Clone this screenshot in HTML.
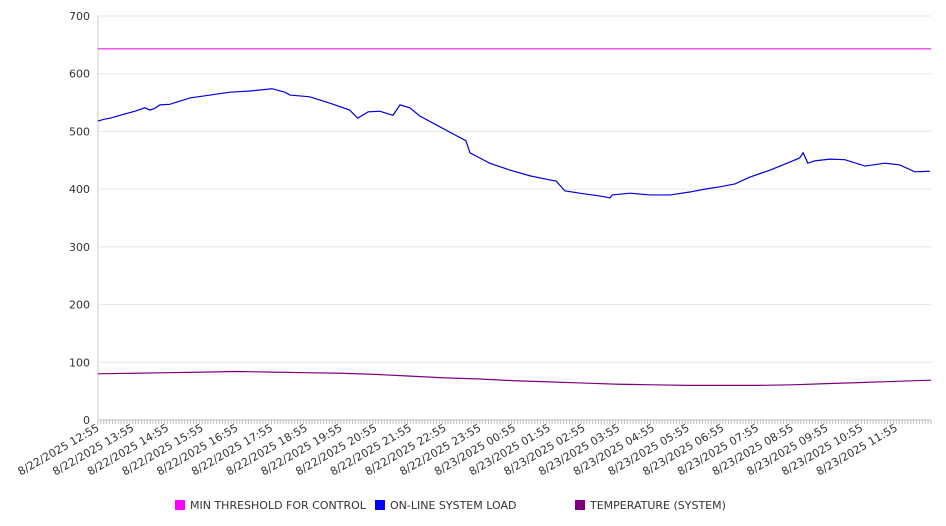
<!DOCTYPE html>
<html><head><meta charset="utf-8"><style>
body{margin:0;background:#fff;}
svg{display:block;font-family:"DejaVu Sans","Liberation Sans",sans-serif;}
</style></head><body>
<svg id="chart" width="946" height="526"></svg>
<script>
const startLabels=["8/22/2025 12:55","8/22/2025 13:55","8/22/2025 14:55","8/22/2025 15:55","8/22/2025 16:55","8/22/2025 17:55","8/22/2025 18:55","8/22/2025 19:55","8/22/2025 20:55","8/22/2025 21:55","8/22/2025 22:55","8/22/2025 23:55","8/23/2025 00:55","8/23/2025 01:55","8/23/2025 02:55","8/23/2025 03:55","8/23/2025 04:55","8/23/2025 05:55","8/23/2025 06:55","8/23/2025 07:55","8/23/2025 08:55","8/23/2025 09:55","8/23/2025 10:55","8/23/2025 11:55"];
const yTicks=[0,100,200,300,400,500,600,700];
const loadMinutes=[0,10,21,38,64,81,90,98,107,124,159,194,228,263,301,323,332,366,401,435,449,467,487,510,522,539,556,591,617,636,643,660,677,712,747,781,792,807,833,868,885,889,920,954,989,1023,1049,1075,1101,1127,1162,1196,1213,1219,1227,1239,1265,1291,1326,1360,1386,1412,1438];
const loadValues=[518,521,523,528,535,541,537,540,546,547,558,563,568,570,574,568,563,560,549,537,523,534,535,528,546,541,527,508,494,484,463,454,445,433,423,416,414,397,393,388,385,390,393,390,390,395,400,404,409,421,433,447,454,463,445,449,452,451,440,445,442,430,431];
const tempMinutes=[0,60,120,180,240,300,360,420,480,540,600,660,720,780,840,900,960,1020,1080,1140,1200,1260,1320,1380,1440];
const tempValues=[80,81,82,83,84,83,82,81,79,76,73,71,68,66,64,62,61,60,60,60,61,63,65,67,69];
const thresholdValue=643;

const X0=98,X1=931,Y0=420,Y1=16,TOTAL=1440;
const xs=m=>X0+(X1-X0)*m/TOTAL;
const ys=v=>Y0-(Y0-Y1)*v/700;
const svg=document.getElementById('chart');
const NS='http://www.w3.org/2000/svg';
function mk(t,a,p){const e=document.createElementNS(NS,t);for(const k in a)e.setAttribute(k,a[k]);(p||svg).appendChild(e);return e;}

yTicks.forEach(v=>{
  const g=mk('line',{x1:X0,x2:X1,y1:ys(v),y2:ys(v),stroke:v===0?'#bbb':'#e6e6e6','stroke-width':1});
  
  
  const t=mk('text',{x:90,y:ys(v)+4,'text-anchor':'end','font-size':11,fill:'#333'});
  t.textContent=v;
  
  
});
const ax=mk('line',{x1:X0,x2:X0,y1:Y1,y2:Y0,stroke:'#ccc'});


const tk=mk('g',{stroke:'#bbb'});


for(let m=0;m<=TOTAL;m+=5){mk('line',{x1:xs(m),x2:xs(m),y1:Y0,y2:Y0+4},tk);}
startLabels.forEach((l,i)=>{
  const x=xs(i*60)+2,y=Y0+10;
  const t=mk('text',{x:x,y:y,'text-anchor':'end','font-size':11,fill:'#333',transform:`rotate(-30 ${x} ${y})`});
  t.textContent=l;
  
  
});
const th=mk('line',{x1:X0,x2:X1,y1:ys(thresholdValue),y2:ys(thresholdValue),stroke:'#e000e0','stroke-width':1});


function path(ms,vs,c,name){
  const p=mk('polyline',{points:ms.map((m,i)=>xs(m)+','+ys(vs[i])).join(' '),fill:'none',stroke:c,'stroke-width':1.2});
  
  
}
path(loadMinutes,loadValues,'#0000dd','online-load-line');
path(tempMinutes,tempValues,'#800080','temperature-line');

const leg=[['MIN THRESHOLD FOR CONTROL','#ff00ff',175],['ON-LINE SYSTEM LOAD','#0000ff',375],['TEMPERATURE (SYSTEM)','#800080',575]];
leg.forEach(([n,c,x])=>{
  const g=mk('g',{});
  
  
  mk('rect',{x:x,y:500,width:10,height:10,fill:c},g);
  const t=mk('text',{x:x+15,y:509,'font-size':11,fill:'#333'},g);
  t.textContent=n;
});
</script>
</body></html>
